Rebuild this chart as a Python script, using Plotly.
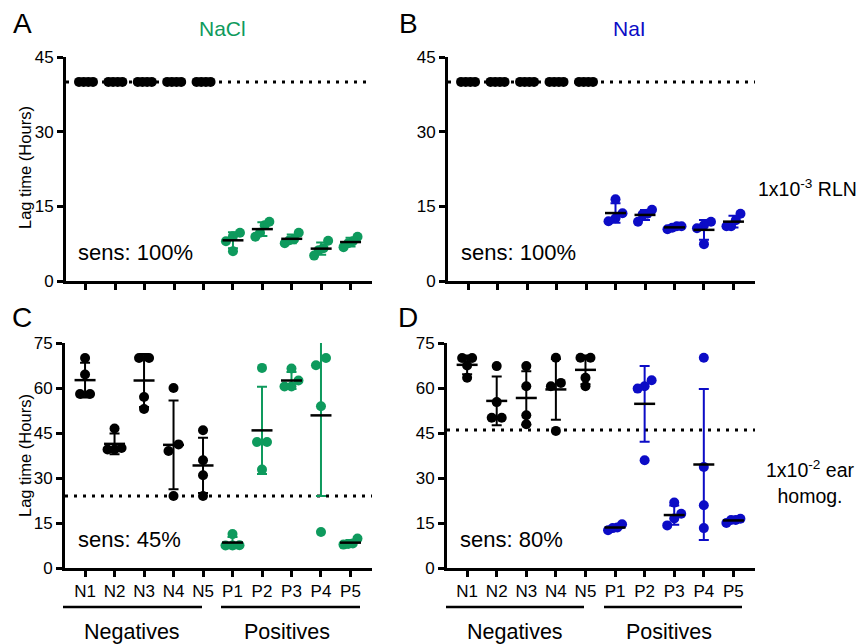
import numpy as np
import plotly.graph_objects as go

# ---------------- data ----------------
categories = ["N1", "N2", "N3", "N4", "N5", "P1", "P2", "P3", "P4", "P5"]

A_values = [
    [40, 40, 40, 40], [40, 40, 40, 40], [40, 40, 40, 40], [40, 40, 40, 40], [40, 40, 40, 40],
    [9.7, 9.0, 8.0, 6.0], [11.2, 11.9, 8.9, 9.7], [9.7, 8.4, 8.2, 7.6],
    [8.1, 6.6, 6.2, 5.1], [8.9, 8.0, 7.6, 6.8],
]
B_values = [
    [40, 40, 40, 40], [40, 40, 40, 40], [40, 40, 40, 40], [40, 40, 40, 40], [40, 40, 40, 40],
    [16.4, 13.6, 12.6, 12.0], [14.3, 13.5, 13.4, 11.9], [11.0, 11.0, 10.7, 10.4],
    [11.9, 11.2, 10.6, 7.4], [13.5, 12.2, 11.0, 11.0],
]
C_values = [
    [70, 64.5, 58, 58], [46.5, 40, 39.5, 39.5], [70, 70, 57, 53], [60, 41.2, 39, 24], [45.9, 35.9, 30.9, 24],
    [11.3, 7.6, 7.5, 7.5], [66.7, 42, 42, 32.8], [66.5, 62.5, 60.5, 60.5],
    [70, 67.6, 53.9, 12], [9.8, 8.2, 8.0, 7.8],
]
D_values = [
    [70, 70, 67.5, 63.4], [67.3, 55.3, 50.1, 50.1], [67.3, 60.6, 50.9, 47.9], [70.1, 61.7, 60.6, 45.7], [70.1, 70.1, 63.4, 60.6],
    [14.6, 13.5, 13.3, 12.6], [62.6, 60.6, 59.8, 35.9], [21.8, 18.1, 16.5, 14.2],
    [70.1, 33.7, 20.9, 13.3], [16.4, 16.0, 16.0, 15.0],
]
thresholds = {"A": 40, "B": 40, "C": 24, "D": 46}
y_max = {"A": 45, "B": 45, "C": 75, "D": 75}
y_ticks = {"A": [0, 15, 30, 45], "B": [0, 15, 30, 45], "C": [0, 15, 30, 45, 60, 75], "D": [0, 15, 30, 45, 60, 75]}
sens_text = {"A": "sens: 100%", "B": "sens: 100%", "C": "sens: 45%", "D": "sens: 80%"}

# ---------------- style ----------------
W, H = 863, 644
GREEN = "#0e9a5d"
BLUE = "#0c0cc6"
FONT = "Liberation Sans, Arial, sans-serif"
MARKER_D = 10
XR = [-0.68, 9.73]

panels = {
    "A": dict(x=(66, 372), y=(57, 281), color=GREEN, values=A_values, xlabels=False),
    "B": dict(x=(448, 755), y=(57, 281), color=BLUE, values=B_values, xlabels=False),
    "C": dict(x=(65, 372), y=(343, 568), color=GREEN, values=C_values, xlabels=True),
    "D": dict(x=(447, 755), y=(343, 568), color=BLUE, values=D_values, xlabels=True),
}


def px2x(p):
    return p / W


def px2y(p):
    return 1 - p / H


def swarm_offsets(vals, px_per_unit_y, px_per_cat):
    """Spread points with near-identical values horizontally (GraphPad-like)."""
    vals = np.asarray(vals, dtype=float)
    order = np.argsort(vals)
    offs = np.zeros(len(vals))
    clusters = []
    cur = [order[0]]
    for a, b in zip(order[:-1], order[1:]):
        if (vals[b] - vals[a]) * px_per_unit_y < 7.5:
            cur.append(b)
        else:
            clusters.append(cur)
            cur = [b]
    clusters.append(cur)
    for cl in clusters:
        n = len(cl)
        if n == 1:
            continue
        sp = min(10.0, 14.0 / (n - 1))
        for k, idx in enumerate(cl):
            offs[idx] = (k - (n - 1) / 2) * sp / px_per_cat
    return offs


fig = go.Figure()
layout = dict(
    width=W, height=H, margin=dict(l=0, r=0, t=0, b=0, autoexpand=False),
    plot_bgcolor="white", paper_bgcolor="white", showlegend=False,
    font=dict(family=FONT, color="black"),
)
shapes = []
annotations = []


def ann(text, x, y, size, color="black", xanchor="center", **kw):
    annotations.append(dict(text=text, x=px2x(x), y=px2y(y), xref="paper", yref="paper",
                            xanchor=xanchor, yanchor="middle", showarrow=False,
                            font=dict(size=size, family=FONT, color=color), **kw))


for i, (key, p) in enumerate(panels.items()):
    n = "" if i == 0 else str(i + 1)
    xa, ya = "x" + n, "y" + n
    px_per_cat = (p["x"][1] - p["x"][0]) / (XR[1] - XR[0])
    px_per_unit = (p["y"][1] - p["y"][0]) / y_max[key]

    layout["xaxis" + n] = dict(
        domain=[px2x(p["x"][0]), px2x(p["x"][1])], range=XR, anchor=ya, automargin=False,
        showline=True, linewidth=3, linecolor="black", showgrid=False, zeroline=False,
        ticks="outside", ticklen=6, tickwidth=2.5, tickcolor="black",
        tickvals=list(range(len(categories))), ticktext=categories,
        showticklabels=p["xlabels"], tickfont=dict(size=17, family=FONT, color="black"),
    )
    layout["yaxis" + n] = dict(
        domain=[px2y(p["y"][1]), px2y(p["y"][0])], range=[0, y_max[key]], anchor=xa, automargin=False,
        showline=True, linewidth=3, linecolor="black", showgrid=False, zeroline=False,
        ticks="outside", ticklen=6, tickwidth=2.5, tickcolor="black",
        tickvals=y_ticks[key], tickfont=dict(size=17, family=FONT, color="black"),
    )

    # threshold dotted line
    shapes.append(dict(type="line", xref=xa + " domain", yref=ya, x0=0, x1=1,
                       y0=thresholds[key], y1=thresholds[key], layer="below",
                       line=dict(color="black", width=3, dash="3px,6px")))

    xs, ys, cs = [], [], []
    means, sds, bar_cols = [], [], []
    for ci, vals in enumerate(p["values"]):
        col = "black" if categories[ci].startswith("N") else p["color"]
        offs = swarm_offsets(vals, px_per_unit, px_per_cat)
        for v, o in zip(vals, offs):
            xs.append(ci + o)
            ys.append(v)
            cs.append(col)
        means.append(float(np.mean(vals)))
        sds.append(float(np.std(vals, ddof=1)))
        bar_cols.append(col)

    fig.add_trace(go.Scatter(x=xs, y=ys, mode="markers", xaxis=xa, yaxis=ya,
                             marker=dict(size=MARKER_D, color=cs, line=dict(width=0)),
                             cliponaxis=False, hoverinfo="y"))
    for ci in range(len(categories)):
        fig.add_trace(go.Scatter(
            x=[ci], y=[means[ci]], mode="markers", xaxis=xa, yaxis=ya,
            marker=dict(color="rgba(0,0,0,0)", size=1),
            error_y=dict(type="data", array=[sds[ci]], color=bar_cols[ci], thickness=2, width=5),
            hoverinfo="skip"))
    fig.add_trace(go.Scatter(x=list(range(len(categories))), y=means, mode="markers",
                             xaxis=xa, yaxis=ya, cliponaxis=False,
                             marker=dict(symbol="line-ew", size=15,
                                         line=dict(width=2.5, color="black")),
                             hoverinfo="skip"))

    sens_pos = {"A": (76, 253), "B": (459, 253), "C": (76, 539), "D": (458, 539)}[key]
    ann(sens_text[key], sens_pos[0], sens_pos[1], 22, xanchor="left")

# panel letters
for letter, (lx, ly) in {"A": (22, 24), "B": (408, 24), "C": (22, 317), "D": (408, 317)}.items():
    ann(letter, lx, ly, 28)

# titles
ann("NaCl", 222, 29, 21, color=GREEN)
ann("NaI", 629, 29, 21, color=BLUE)

# y axis titles
for yc in (168, 456):
    ann("Lag time (Hours)", 25, yc, 16.5, textangle=-90)

# row labels
ann("1x10<sup>-3</sup> RLN", 756, 188, 19.5, xanchor="left")
ann("1x10<sup>-2</sup> ear<br>homog.", 810, 482, 19.5, align="center")

# group brackets
groups = [
    ("Negatives", 63, 202, 131.7), ("Positives", 221, 360, 286.7),
    ("Negatives", 446, 584, 515), ("Positives", 604, 742, 669),
]
for label, x0, x1, xc in groups:
    shapes.append(dict(type="line", xref="paper", yref="paper", x0=px2x(x0), x1=px2x(x1),
                       y0=px2y(607), y1=px2y(607), line=dict(color="black", width=2.5)))
    ann(label, xc, 632, 21.5)

layout["shapes"] = shapes
layout["annotations"] = annotations
fig.update_layout(**layout)
fig.write_html("out.html", config={"displayModeBar": False},
               post_script="document.body.style.margin='0px';")
